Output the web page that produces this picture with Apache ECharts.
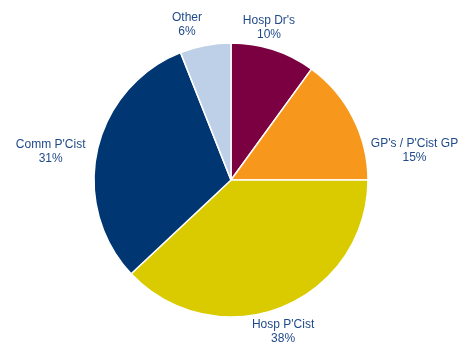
<!DOCTYPE html>
<html>
<head>
<meta charset="utf-8">
<script src="https://cdn.jsdelivr.net/npm/echarts@6/dist/echarts.min.js"></script>
<style>
  html, body { margin: 0; padding: 0; background: #ffffff; }
  #chart { width: 471px; height: 345px; }
</style>
</head>
<body>
<div id="chart"></div>
<script>
// Share of respondents by role (percent)
const categories = ["Hosp Dr's", "GP's / P'Cist GP", "Hosp P'Cist", "Comm P'Cist", "Other"];
const shares = [10, 15, 38, 31, 6];
const sliceColors = ['#7b0041', '#f7981d', '#d9cb00', '#003671', '#bed0e8'];

// Pie geometry (pixels)
const CX = 231, CY = 180, R = 137;
// Label placement tweaks: angular nudge (degrees) and gap from the rim (px)
const labelTurn = [-4, 18, 2.7, -3.6, -5];
const labelGap = [0, 3.5, 0.5, 9, 7];

const total = shares.reduce((a, b) => a + b, 0);
const midAngles = [];
let acc = 0;
shares.forEach(v => {
  midAngles.push((acc + v / 2) / total * 360);
  acc += v;
});

const chart = echarts.init(document.getElementById('chart'), null, { renderer: 'canvas' });
chart.setOption({
  animation: false,
  series: [{
    type: 'pie',
    center: [CX, CY],
    radius: [0, R],
    startAngle: 90,
    clockwise: true,
    avoidLabelOverlap: false,
    itemStyle: { borderColor: '#ffffff', borderWidth: 1.5 },
    label: {
      show: true,
      position: 'outside',
      formatter: '{b}\n{c}%',
      fontFamily: '"Liberation Sans", Arial, sans-serif',
      fontSize: 12,
      lineHeight: 14,
      color: '#1f4a89',
      align: 'center',
      overflow: 'none'
    },
    labelLine: { show: false },
    emphasis: { disabled: true },
    labelLayout: function (p) {
      const i = p.dataIndex;
      const a = (midAngles[i] + labelTurn[i]) * Math.PI / 180;
      const sx = Math.sin(a), cy = -Math.cos(a);
      const w = p.labelRect.width, h = p.labelRect.height;
      const proj = Math.abs(sx) * w / 2 + Math.abs(cy) * h / 2;
      const d = R + labelGap[i] + proj;
      return {
        x: CX + sx * d,
        y: CY + cy * d,
        align: 'center',
        verticalAlign: 'middle'
      };
    },
    data: categories.map((name, i) => ({
      name: name,
      value: shares[i],
      itemStyle: { color: sliceColors[i] }
    }))
  }]
});
</script>
</body>
</html>
